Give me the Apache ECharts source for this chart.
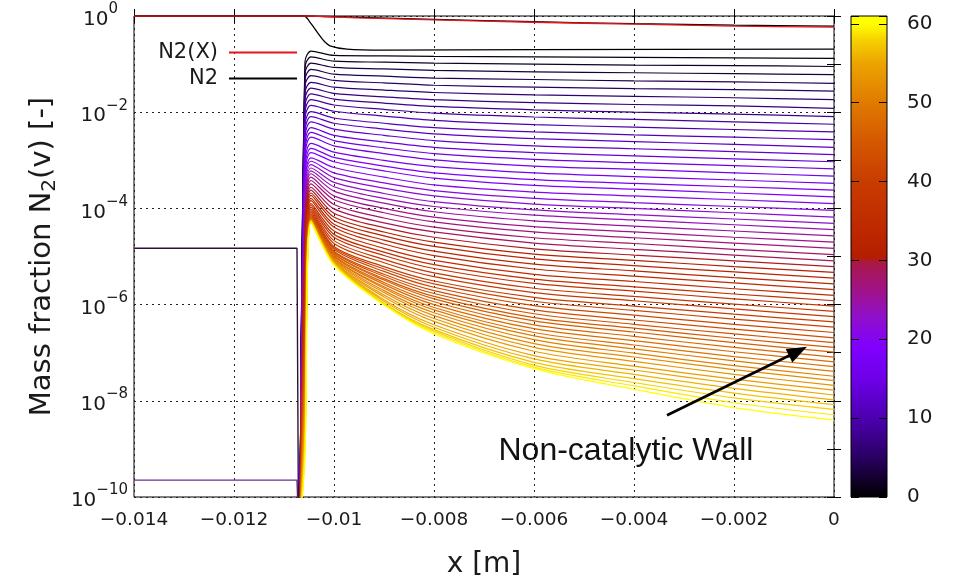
<!DOCTYPE html>
<html>
<head>
<meta charset="utf-8">
<script src="https://cdn.jsdelivr.net/npm/echarts@6.0.0/dist/echarts.min.js"></script>
<style>
  html, body { margin: 0; padding: 0; background: #fff; }
  #chart { width: 959px; height: 578px; }
</style>
</head>
<body>
<div id="chart"></div>
<script>
// ---- data: log10 of the mass fraction ----
// upstream of the shock
var upstreamX = [-0.014, -0.01074, -0.01071];
var v1PlateauLog = -4.83;      // N2(v=1) free stream
var floorLog = -9.65;          // v >= 2 free stream (all overlap)
var belowAxisLog = -10.6;      // dip under the axis at the shock foot
var shockFootX = -0.01068;

// downstream stations, one array per x, values for v = 1..60
var stationX = [-0.01058, -0.01046, -0.0100, -0.009, -0.008, -0.006, -0.004, -0.002, 0];

var atRise = [
  -0.95,-1.07,-1.20,-1.33,-1.46,-1.60,-1.73,-1.86,-1.99,-2.12,
  -2.25,-2.39,-2.52,-2.65,-2.79,-2.92,-3.05,-3.18,-3.31,-3.45,
  -3.59,-3.72,-3.86,-4.00,-4.14,-4.28,-4.42,-4.56,-4.70,-4.84,
  -4.99,-5.14,-5.29,-5.44,-5.59,-5.74,-5.89,-6.04,-6.19,-6.34,
  -6.49,-6.64,-6.79,-6.94,-7.09,-7.24,-7.39,-7.54,-7.69,-7.84,
  -7.97,-8.10,-8.23,-8.36,-8.49,-8.62,-8.75,-8.88,-9.01,-9.14];
var atPeak = [
  -0.73,-0.85,-0.98,-1.11,-1.24,-1.38,-1.50,-1.62,-1.74,-1.86,
  -1.99,-2.09,-2.20,-2.32,-2.42,-2.52,-2.65,-2.75,-2.84,-2.95,
  -3.02,-3.09,-3.16,-3.22,-3.28,-3.35,-3.42,-3.49,-3.56,-3.62,
  -3.68,-3.73,-3.79,-3.84,-3.90,-3.94,-3.98,-4.02,-4.05,-4.08,
  -4.11,-4.13,-4.15,-4.17,-4.19,-4.20,-4.21,-4.22,-4.23,-4.23,
  -4.24,-4.24,-4.25,-4.25,-4.26,-4.26,-4.27,-4.27,-4.28,-4.28];
var atX100 = [
  -0.82,-0.94,-1.07,-1.21,-1.34,-1.48,-1.61,-1.73,-1.85,-1.98,
  -2.12,-2.23,-2.35,-2.48,-2.59,-2.70,-2.83,-2.94,-3.03,-3.15,
  -3.26,-3.36,-3.46,-3.55,-3.64,-3.74,-3.82,-3.92,-4.01,-4.10,
  -4.18,-4.25,-4.33,-4.39,-4.47,-4.54,-4.60,-4.67,-4.73,-4.79,
  -4.82,-4.85,-4.89,-4.91,-4.94,-4.95,-4.98,-5.00,-5.03,-5.04,
  -5.06,-5.08,-5.10,-5.12,-5.13,-5.14,-5.15,-5.16,-5.17,-5.18];
var atX090 = [
  -0.83,-0.96,-1.10,-1.25,-1.39,-1.54,-1.68,-1.81,-1.94,-2.08,
  -2.23,-2.35,-2.48,-2.62,-2.74,-2.86,-3.00,-3.12,-3.22,-3.35,
  -3.47,-3.58,-3.69,-3.79,-3.89,-4.00,-4.09,-4.20,-4.30,-4.40,
  -4.49,-4.57,-4.66,-4.74,-4.83,-4.91,-4.98,-5.06,-5.13,-5.21,
  -5.26,-5.31,-5.37,-5.41,-5.46,-5.49,-5.54,-5.58,-5.63,-5.66,
  -5.71,-5.75,-5.80,-5.84,-5.90,-5.93,-5.97,-5.98,-6.00,-6.01];
var atX080 = [
  -0.84,-0.98,-1.13,-1.29,-1.44,-1.59,-1.74,-1.88,-2.02,-2.17,
  -2.32,-2.45,-2.59,-2.73,-2.86,-2.99,-3.13,-3.26,-3.37,-3.51,
  -3.63,-3.74,-3.86,-3.96,-4.07,-4.18,-4.28,-4.39,-4.49,-4.60,
  -4.70,-4.79,-4.89,-4.98,-5.08,-5.17,-5.25,-5.34,-5.42,-5.51,
  -5.57,-5.64,-5.71,-5.77,-5.83,-5.88,-5.94,-6.00,-6.06,-6.11,
  -6.17,-6.23,-6.29,-6.35,-6.42,-6.47,-6.52,-6.55,-6.58,-6.61];
var atX060 = [
  -0.85,-1.00,-1.16,-1.32,-1.48,-1.64,-1.80,-1.95,-2.10,-2.26,
  -2.41,-2.55,-2.70,-2.84,-2.98,-3.12,-3.26,-3.40,-3.52,-3.66,
  -3.79,-3.91,-4.03,-4.14,-4.26,-4.38,-4.49,-4.61,-4.72,-4.84,
  -4.95,-5.05,-5.16,-5.26,-5.37,-5.47,-5.56,-5.66,-5.75,-5.85,
  -5.93,-6.02,-6.11,-6.19,-6.27,-6.34,-6.42,-6.50,-6.58,-6.65,
  -6.73,-6.81,-6.89,-6.97,-7.06,-7.13,-7.20,-7.26,-7.30,-7.33];
var atX040 = [
  -0.86,-1.02,-1.18,-1.35,-1.51,-1.67,-1.84,-2.00,-2.15,-2.31,
  -2.47,-2.61,-2.76,-2.91,-3.05,-3.19,-3.34,-3.48,-3.60,-3.74,
  -3.88,-4.00,-4.13,-4.24,-4.37,-4.49,-4.61,-4.73,-4.85,-4.97,
  -5.08,-5.19,-5.30,-5.41,-5.52,-5.63,-5.72,-5.83,-5.92,-6.03,
  -6.12,-6.22,-6.32,-6.41,-6.49,-6.57,-6.66,-6.75,-6.84,-6.92,
  -7.01,-7.09,-7.18,-7.28,-7.36,-7.45,-7.54,-7.62,-7.69,-7.76];
var atX020 = [
  -0.87,-1.03,-1.20,-1.37,-1.53,-1.70,-1.87,-2.04,-2.20,-2.36,
  -2.52,-2.67,-2.82,-2.97,-3.11,-3.26,-3.41,-3.55,-3.68,-3.82,
  -3.96,-4.09,-4.22,-4.34,-4.47,-4.60,-4.72,-4.85,-4.97,-5.09,
  -5.21,-5.32,-5.44,-5.55,-5.67,-5.78,-5.88,-5.99,-6.09,-6.20,
  -6.30,-6.41,-6.51,-6.61,-6.70,-6.79,-6.89,-6.98,-7.08,-7.17,
  -7.27,-7.35,-7.45,-7.55,-7.64,-7.74,-7.84,-7.94,-8.04,-8.14];
var atWall = [
  -0.88,-1.05,-1.22,-1.40,-1.56,-1.74,-1.92,-2.09,-2.25,-2.41,
  -2.57,-2.73,-2.88,-3.03,-3.18,-3.33,-3.48,-3.62,-3.76,-3.90,
  -4.04,-4.18,-4.31,-4.44,-4.57,-4.70,-4.83,-4.96,-5.09,-5.21,
  -5.33,-5.45,-5.57,-5.69,-5.81,-5.92,-6.03,-6.14,-6.25,-6.36,
  -6.47,-6.58,-6.69,-6.79,-6.89,-6.99,-7.09,-7.19,-7.29,-7.39,
  -7.49,-7.58,-7.68,-7.78,-7.88,-7.98,-8.08,-8.18,-8.29,-8.40];

// ground level v = 0
var v0X   = [-0.014, -0.01060, -0.01050, -0.01034, -0.01020, -0.01008, -0.00974, -0.009, -0.006, 0];
var v0Log = [0, 0, -0.10, -0.33, -0.52, -0.62, -0.69, -0.71, -0.70, -0.69];

// totals
var totX    = [-0.014, -0.0105, -0.0102, -0.0095, -0.008, -0.006, -0.004, -0.002, 0];
var n2Log   = [0, 0, -0.01, -0.03, -0.07, -0.12, -0.16, -0.19, -0.21];
var n2xLog  = [0, 0, -0.01, -0.04, -0.08, -0.13, -0.17, -0.21, -0.23];

var levelCount = 60;
var cbMax = 61;
var cbTicks = [0, 10, 20, 30, 40, 50, 60];

// colour palette of the colour box
var paletteStops  = [0, 5, 10, 15, 19, 23, 26, 29.5, 30.5, 35, 40, 45, 50, 55, 58, 60, 61];
var paletteColors = ['#000000', '#2a0062', '#4c00b0', '#6e00e8', '#8000ff', '#9010c8', '#a0128c',
  '#a8184c', '#b41e00', '#c02c00', '#c83c00', '#d45800', '#e07a00', '#eca400', '#f6d200', '#ffff00', '#ffff00'];

function hexRgb(h) {
  return [parseInt(h.substr(1, 2), 16), parseInt(h.substr(3, 2), 16), parseInt(h.substr(5, 2), 16)];
}
function paletteColor(v) {
  for (var i = 0; i < paletteStops.length - 1; i++) {
    if (v <= paletteStops[i + 1]) {
      var t = (v - paletteStops[i]) / (paletteStops[i + 1] - paletteStops[i]);
      var a = hexRgb(paletteColors[i]), b = hexRgb(paletteColors[i + 1]);
      return 'rgb(' + Math.round(a[0] + (b[0] - a[0]) * t) + ',' +
        Math.round(a[1] + (b[1] - a[1]) * t) + ',' + Math.round(a[2] + (b[2] - a[2]) * t) + ')';
    }
  }
  return paletteColors[paletteColors.length - 1];
}

var stations = [atRise, atPeak, atX100, atX090, atX080, atX060, atX040, atX020, atWall];

var chart = echarts.init(document.getElementById('chart'));
var font = 'DejaVu Sans';
var txt = '#1a1a1a';
var MINUS = '\u2212';

var series = [];

// free-stream parts
series.push({
  type: 'line', name: 'floor', data: upstreamX.map(function (x, i) { return [x, i < 2 ? floorLog : belowAxisLog]; }),
  symbol: 'none', lineStyle: { width: 1.4, color: '#6b2f92' }, silent: true, z: 2
});
series.push({
  type: 'line', name: 'v1up', data: upstreamX.map(function (x, i) { return [x, i < 2 ? v1PlateauLog : belowAxisLog]; }),
  symbol: 'none', lineStyle: { width: 1.4, color: '#2c1238' }, silent: true, z: 2
});

// vibrational levels
for (var v = 1; v <= levelCount; v++) {
  var d = [[shockFootX, belowAxisLog]];
  for (var k = 0; k < stationX.length; k++) d.push([stationX[k], stations[k][v - 1]]);
  series.push({
    type: 'line', name: 'v' + v, data: d, symbol: 'none', smooth: 0.3,
    lineStyle: { width: 1.2, color: paletteColor(v) }, silent: true, z: 2
  });
}

series.push({
  type: 'line', name: 'v0', data: v0X.map(function (x, i) { return [x, v0Log[i]]; }),
  symbol: 'none', smooth: 0.3, lineStyle: { width: 1.3, color: '#000' }, silent: true, z: 3
});

series.push({
  type: 'line', name: 'N2', data: totX.map(function (x, i) { return [x, n2Log[i]]; }),
  symbol: 'none', smooth: 0.3, itemStyle: { color: '#000' }, lineStyle: { width: 1.3, color: '#000' },
  silent: true, z: 3,
  markLine: {
    silent: true, symbol: ['none', 'triangle'], symbolSize: [15, 20],
    lineStyle: { color: '#000', width: 2.6, type: 'solid' }, label: { show: false },
    data: [[{ coord: [-0.00334, -8.30] }, { coord: [-0.00072, -6.97] }]]
  },
  markPoint: {
    silent: true, symbol: 'circle', symbolSize: 1, itemStyle: { color: 'rgba(0,0,0,0)' },
    data: [{ coord: [-0.00672, -9.04] }],
    label: { show: true, position: 'right', distance: 0, formatter: 'Non-catalytic Wall',
      fontFamily: 'Liberation Sans', fontSize: 32, color: '#111' }
  }
});
series.push({
  type: 'line', name: 'N2(X)', data: totX.map(function (x, i) { return [x, n2xLog[i]]; }),
  symbol: 'none', smooth: 0.3, itemStyle: { color: '#e8141c' }, lineStyle: { width: 1.3, color: '#e8141c' },
  silent: true, z: 4
});

// colour box
var gradStops = paletteStops.map(function (s, i) { return { offset: 1 - s / cbMax, color: paletteColors[i] }; }).reverse();
series.push({
  type: 'bar', xAxisIndex: 2, yAxisIndex: 2, data: [cbMax], barWidth: '100%', silent: true, z: 1,
  itemStyle: { color: { type: 'linear', x: 0, y: 0, x2: 0, y2: 1, colorStops: gradStops } }
});

// y values are decades: label them as powers of ten
function expLabel(value) {
  var e = Math.round(value);
  return '{b|10}{s|' + (e < 0 ? MINUS + (-e) : String(e)) + '}' + (e === 0 ? '{p|}' : '');
}
var expRich = {
  b: { fontFamily: font, fontSize: 20, color: txt, lineHeight: 28, verticalAlign: 'bottom' },
  s: { fontFamily: font, fontSize: 15, color: txt, lineHeight: 15, verticalAlign: 'top' },
  p: { width: 10 }
};
var dotted = { show: true, lineStyle: { color: '#222', width: 1, type: [2, 4] } };
var tick = { show: true, inside: true, length: 7, lineStyle: { color: '#000' } };
var minor = { show: true, splitNumber: 2, length: 7, lineStyle: { color: '#000' } };

var legendBase = {
  orient: 'vertical', align: 'right', right: 657, itemWidth: 68, itemHeight: 2, icon: 'rect',
  selectedMode: false, textStyle: { fontFamily: font, fontSize: 21, color: txt, padding: [0, 6, 0, 0] }
};

chart.setOption({
  animation: false,
  backgroundColor: '#fff',
  legend: [
    Object.assign({}, legendBase, { data: ['N2(X)'], top: 37 }),
    Object.assign({}, legendBase, { data: ['N2'], top: 63 })
  ],
  grid: [
    { left: 134, top: 16, width: 700, height: 481, show: true, borderColor: '#000', borderWidth: 1,
      backgroundColor: 'transparent', outerBoundsMode: 'none', containLabel: false },
    { left: 851, top: 16, width: 36, height: 481, show: true, borderColor: '#000', borderWidth: 1,
      backgroundColor: 'transparent', outerBoundsMode: 'none', containLabel: false, z: 3 }
  ],
  xAxis: [
    {
      type: 'value', gridIndex: 0, min: -0.014, max: 0, interval: 0.002,
      axisLine: { show: false }, axisTick: tick,
      axisLabel: { fontFamily: font, fontSize: 18.5, color: txt, margin: 14,
        formatter: function (val) { return String(val).replace('-', MINUS); } },
      splitLine: dotted,
      name: 'x [m]', nameLocation: 'middle', nameGap: 54,
      nameTextStyle: { fontFamily: font, fontSize: 28, color: txt }
    },
    {
      type: 'value', gridIndex: 0, position: 'top', min: -0.014, max: 0, interval: 0.002,
      axisLine: { show: false }, axisLabel: { show: false }, splitLine: { show: false }, axisTick: tick
    },
    {
      type: 'category', gridIndex: 1, data: ['c'], show: false
    }
  ],
  yAxis: [
    {
      type: 'value', gridIndex: 0, min: -10, max: 0, interval: 2,
      axisLine: { show: false }, axisTick: tick, minorTick: minor,
      axisLabel: { formatter: expLabel, rich: expRich, margin: 6, align: 'right' },
      splitLine: dotted,
      name: '{a|Mass fraction N}{c|2}{a|(v) [-]}', nameLocation: 'middle', nameGap: 72, nameRotate: 90,
      nameTextStyle: { rich: {
        a: { fontFamily: font, fontSize: 29, color: txt, lineHeight: 35 },
        c: { fontFamily: font, fontSize: 20, color: txt, lineHeight: 16, verticalAlign: 'bottom' }
      } }
    },
    {
      type: 'value', gridIndex: 0, position: 'right', min: -10, max: 0, interval: 2,
      axisLine: { show: false }, axisLabel: { show: false }, splitLine: { show: false },
      axisTick: tick, minorTick: minor
    },
    {
      type: 'value', gridIndex: 1, position: 'right', min: 0, max: cbMax, interval: 10, z: 5,
      axisLine: { show: false }, splitLine: { show: false },
      axisTick: { show: true, inside: true, length: 8, lineStyle: { color: '#000' } },
      axisLabel: { fontFamily: font, fontSize: 20, color: txt, margin: 20,
        formatter: function (val) { return cbTicks.indexOf(val) >= 0 ? String(val) : ''; } }
    },
    {
      type: 'value', gridIndex: 1, position: 'left', min: 0, max: cbMax, interval: 10, z: 5,
      axisLine: { show: false }, splitLine: { show: false }, axisLabel: { show: false },
      axisTick: { show: true, inside: true, length: 8, lineStyle: { color: '#000' } }
    }
  ],
  series: series.map(function (s) {
    if (s.type === 'line' && s.xAxisIndex === undefined) { s.xAxisIndex = 0; s.yAxisIndex = 0; }
    return s;
  })
});
</script>
</body>
</html>
